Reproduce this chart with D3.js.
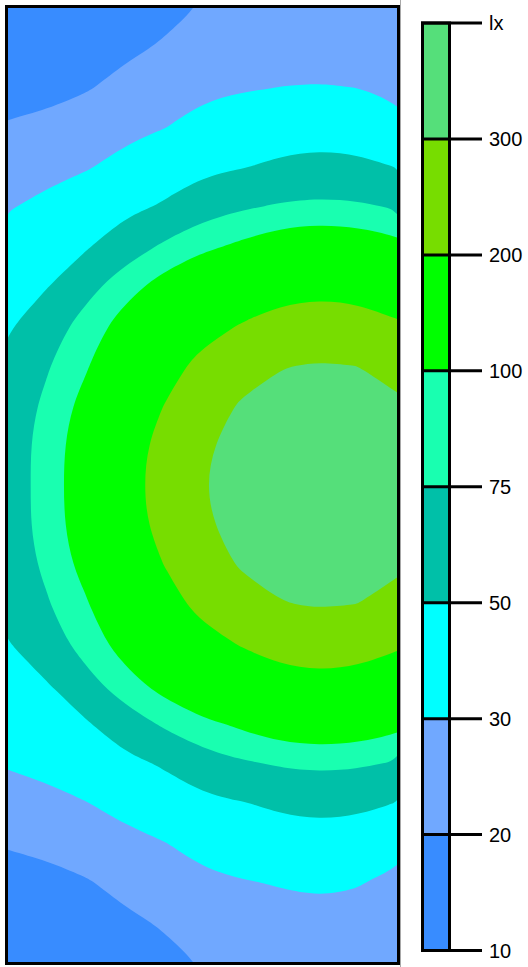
<!DOCTYPE html>
<html>
<head>
<meta charset="utf-8">
<script src="https://cdn.jsdelivr.net/npm/d3@7"></script>
<style>
html, body { margin: 0; padding: 0; background: #ffffff; }
svg { display: block; }
</style>
</head>
<body>
<script>
// ---- data -------------------------------------------------------------
// band limits in lx (lowest band starts at 10)
const thresholds = [10, 20, 30, 50, 75, 100, 200, 300];
const bandColors = ["#388cff", "#70a8ff", "#00ffff", "#00c0a8", "#19ffb0", "#00ff00", "#77dd00", "#55df7a"];
const tickLabels = ["10", "20", "30", "50", "75", "100", "200", "300", "lx"];

// illuminance grid (lx), 11 columns (left -> right) x 25 rows (top -> bottom)
const gridCols = 11;
const gridRows = 25;
const luxRows = [
  [10.7, 12.4, 14.2, 15.9, 18.0, 20.4, 22.0, 23.0, 23.6, 23.1, 22.0],
  [13.6, 15.1, 16.8, 18.6, 20.7, 23.9, 25.4, 26.4, 27.0, 26.5, 24.5],
  [17.0, 17.7, 19.4, 22.1, 25.0, 27.5, 28.9, 30.1, 30.4, 29.9, 26.0],
  [20.7, 21.9, 23.9, 26.7, 29.6, 34.1, 37.9, 40.5, 41.9, 40.8, 36.5],
  [25.3, 26.8, 29.0, 33.8, 40.0, 45.2, 49.1, 53.4, 55.7, 54.0, 49.6],
  [29.2, 32.7, 38.2, 44.9, 52.0, 63.9, 71.9, 77.6, 80.1, 78.3, 72.9],
  [36.4, 42.0, 47.9, 62.5, 78.4, 93.4, 105.6, 118.8, 124.0, 120.1, 109.5],
  [43.1, 49.1, 66.6, 88.1, 111.8, 136.7, 156.0, 171.4, 178.4, 173.1, 158.4],
  [47.9, 63.3, 84.2, 113.0, 147.2, 177.3, 204.0, 230.2, 241.9, 232.9, 208.6],
  [54.3, 72.8, 96.6, 136.2, 176.2, 217.7, 262.8, 296.2, 306.3, 299.5, 275.0],
  [60.7, 79.8, 110.5, 156.0, 200.2, 259.8, 308.2, 332.5, 344.2, 335.2, 312.2],
  [63.4, 83.3, 119.9, 168.1, 222.3, 287.7, 329.8, 363.1, 381.9, 367.1, 335.0],
  [63.8, 83.0, 122.5, 171.7, 228.5, 295.7, 337.3, 377.2, 417.1, 383.0, 343.1],
  [63.4, 83.3, 119.9, 168.1, 222.3, 287.7, 329.8, 363.1, 381.9, 367.1, 335.0],
  [60.7, 79.8, 110.5, 156.0, 200.2, 259.8, 308.2, 332.5, 344.2, 335.2, 312.2],
  [54.3, 72.8, 96.6, 136.2, 176.2, 217.7, 262.8, 296.2, 306.3, 299.5, 275.0],
  [49.2, 63.3, 84.2, 113.0, 147.2, 177.3, 204.0, 230.2, 241.9, 232.9, 208.6],
  [44.0, 49.1, 66.6, 88.1, 111.8, 136.7, 156.0, 171.4, 178.4, 173.1, 158.4],
  [37.5, 42.0, 47.9, 62.5, 78.4, 93.4, 105.6, 118.8, 124.0, 120.1, 109.5],
  [30.8, 32.7, 38.2, 44.9, 52.0, 63.9, 71.9, 77.6, 80.1, 78.3, 72.9],
  [26.0, 27.3, 29.6, 33.8, 40.0, 45.2, 49.1, 53.4, 55.7, 54.0, 49.6],
  [20.7, 21.9, 23.9, 26.7, 29.6, 34.1, 37.9, 40.5, 41.9, 40.8, 36.5],
  [17.0, 17.7, 19.4, 22.1, 25.0, 27.5, 29.3, 30.6, 31.6, 30.6, 26.5],
  [13.6, 15.1, 16.8, 18.6, 20.7, 23.9, 25.4, 26.4, 27.0, 26.5, 24.5],
  [10.7, 12.4, 14.2, 15.9, 18.0, 20.4, 22.0, 23.0, 23.6, 23.1, 22.0]
];

// ---- layout -----------------------------------------------------------
const W = 528, H = 967;
const plot = { x0: 8, x1: 397, y0: 8, y1: 962 };
const bar = { x0: 421, x1: 451, tickEnd: 482, labelX: 489, yTop: 23, yBottom: 950.5 };

const svg = d3.select("body").append("svg")
  .attr("width", W).attr("height", H)
  .attr("viewBox", `0 0 ${W} ${H}`);

// ---- contour plot -----------------------------------------------------
const xs = d3.scaleLinear().domain([0, gridCols - 1]).range([plot.x0, plot.x1]);
const ys = d3.scaleLinear().domain([0, gridRows - 1]).range([plot.y0, plot.y1]);
const color = d3.scaleThreshold().domain(thresholds.slice(1)).range(bandColors);

const values = luxRows.flat();
const contours = d3.contours()
  .size([gridCols, gridRows])
  .smooth(true)
  .thresholds(thresholds)(values);

// grid sample (i, j) sits at contour coordinate (i + 0.5, j + 0.5)
const ringLine = d3.line().curve(d3.curveBasisClosed);
function ringPath(ring) {
  const pts = ring.slice(0, -1).map(([x, y]) => [xs(x - 0.5), ys(y - 0.5)]);
  return ringLine(pts);
}
function contourPath(c) {
  return c.coordinates.map(poly => poly.map(ringPath).join("")).join("");
}

svg.append("defs").append("clipPath").attr("id", "plotClip")
  .append("rect")
  .attr("x", plot.x0).attr("y", plot.y0)
  .attr("width", plot.x1 - plot.x0).attr("height", plot.y1 - plot.y0);

const plotG = svg.append("g").attr("clip-path", "url(#plotClip)");
// lowest band fills the whole area
plotG.append("rect")
  .attr("x", plot.x0).attr("y", plot.y0)
  .attr("width", plot.x1 - plot.x0).attr("height", plot.y1 - plot.y0)
  .attr("fill", bandColors[0]);

plotG.selectAll("path")
  .data(contours.filter(c => c.value > thresholds[0]))
  .join("path")
  .attr("d", contourPath)
  .attr("fill-rule", "evenodd")
  .attr("fill", d => color(d.value))
  .attr("stroke", "none");

// frame
svg.append("rect")
  .attr("x", plot.x0 - 1.5).attr("y", plot.y0 - 1.5)
  .attr("width", plot.x1 - plot.x0 + 3).attr("height", plot.y1 - plot.y0 + 3)
  .attr("fill", "none").attr("stroke", "#000").attr("stroke-width", 3);

// thin grey separator
svg.append("line")
  .attr("x1", 400.5).attr("x2", 400.5).attr("y1", 0).attr("y2", H)
  .attr("stroke", "#a8a8a8").attr("stroke-width", 1);

// ---- colour bar -------------------------------------------------------
const cbY = d3.scaleLinear().domain([0, thresholds.length]).range([bar.yBottom, bar.yTop]);
const cb = svg.append("g");

cb.selectAll("rect.band")
  .data(bandColors)
  .join("rect")
  .attr("class", "band")
  .attr("x", bar.x0 + 1.5)
  .attr("width", bar.x1 - bar.x0 - 3)
  .attr("y", (d, i) => cbY(i + 1))
  .attr("height", (d, i) => cbY(i) - cbY(i + 1))
  .attr("fill", d => d);

cb.append("rect")
  .attr("x", bar.x0 + 1.5).attr("y", bar.yTop)
  .attr("width", bar.x1 - bar.x0 - 3).attr("height", bar.yBottom - bar.yTop)
  .attr("fill", "none").attr("stroke", "#000").attr("stroke-width", 3);

cb.selectAll("line.tick")
  .data(tickLabels)
  .join("line")
  .attr("class", "tick")
  .attr("x1", bar.x0).attr("x2", bar.tickEnd)
  .attr("y1", (d, i) => cbY(i)).attr("y2", (d, i) => cbY(i))
  .attr("stroke", "#000").attr("stroke-width", 3);

cb.selectAll("text.lab")
  .data(tickLabels)
  .join("text")
  .attr("class", "lab")
  .attr("x", bar.labelX)
  .attr("y", (d, i) => cbY(i))
  .attr("dy", "0.36em")
  .attr("font-family", "'Liberation Sans', Arial, sans-serif")
  .attr("font-size", 20)
  .attr("fill", "#000")
  .text(d => d);
</script>
</body>
</html>
